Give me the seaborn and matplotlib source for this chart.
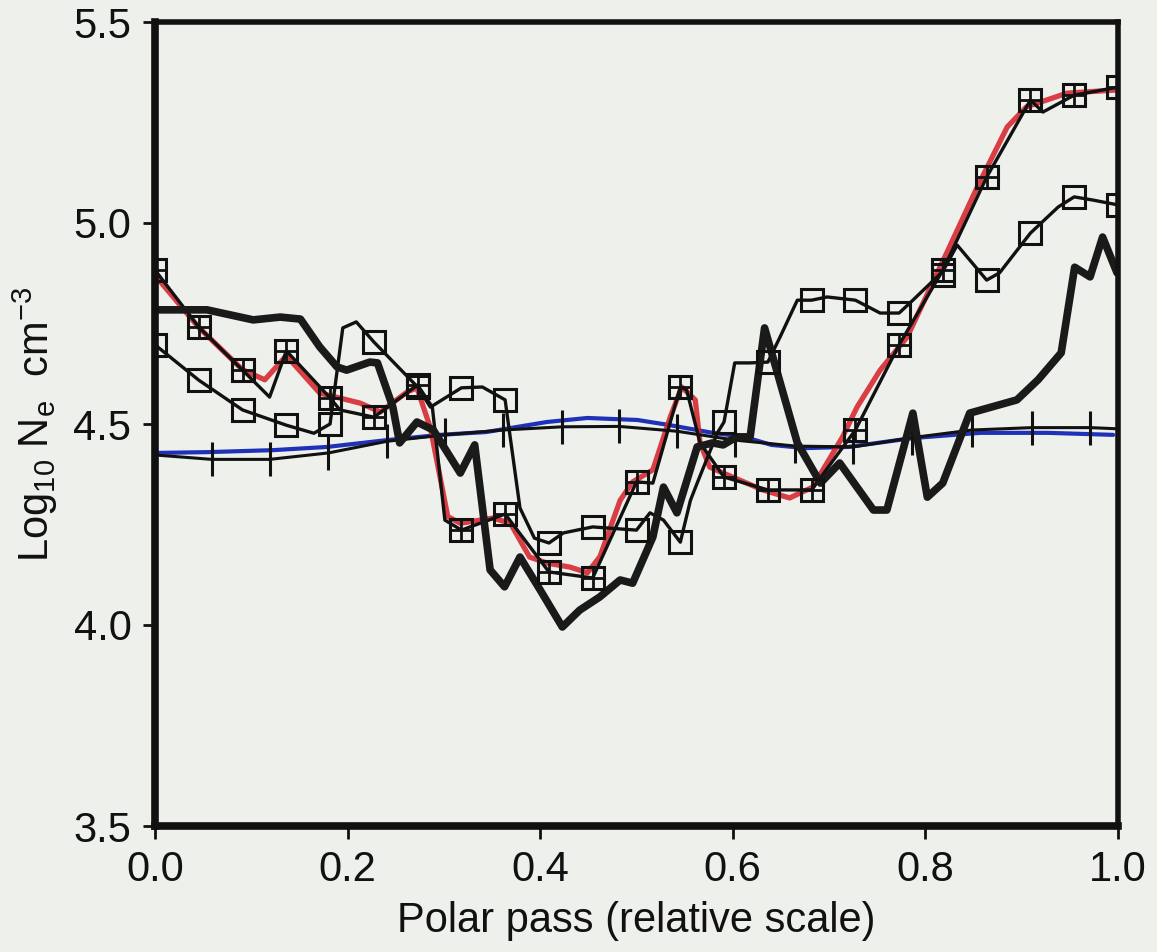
import numpy as np
import pandas as pd
import matplotlib
matplotlib.use("Agg")
import matplotlib.pyplot as plt
import seaborn as sns

# ---------------- data ----------------
# Series A: crossed squares (markers) + thin black line
a_mark_x = [0.0, 0.0455, 0.0909, 0.1364, 0.1818, 0.2273, 0.2727, 0.3182, 0.3636, 0.4091,
            0.4545, 0.5, 0.5455, 0.5909, 0.6364, 0.6818, 0.7273, 0.7727, 0.8182, 0.8636,
            0.9091, 0.9545, 1.0]
a_mark_y = [4.883, 4.741, 4.634, 4.682, 4.565, 4.517, 4.597, 4.236, 4.276, 4.132,
            4.117, 4.356, 4.592, 4.368, 4.336, 4.336, 4.485, 4.697, 4.883, 5.114,
            5.306, 5.318, 5.338]
a_line_x = [0.0, 0.0455, 0.0909, 0.119, 0.1364, 0.1818, 0.192, 0.2273, 0.2727, 0.288, 0.301,
            0.3182, 0.3636, 0.4091, 0.4545, 0.5, 0.517, 0.5455, 0.552, 0.566, 0.5909,
            0.6364, 0.6818, 0.7273, 0.7727, 0.8182, 0.8636, 0.9091, 0.922, 0.9545, 1.0]
a_line_y = [4.883, 4.741, 4.634, 4.567, 4.682, 4.565, 4.535, 4.517, 4.597, 4.542, 4.261,
            4.236, 4.276, 4.132, 4.117, 4.356, 4.353, 4.592, 4.585, 4.453, 4.368,
            4.336, 4.336, 4.485, 4.697, 4.883, 5.114, 5.306, 5.276, 5.318, 5.338]

# Series A': red curve
red_x = [0.0, 0.0455, 0.0909, 0.114, 0.1364, 0.171, 0.213, 0.234, 0.262, 0.272, 0.286, 0.296,
         0.304, 0.317, 0.351, 0.369, 0.389, 0.407, 0.431, 0.449, 0.462, 0.483, 0.496, 0.517,
         0.535, 0.547, 0.561, 0.566, 0.576, 0.590, 0.631, 0.659, 0.683, 0.714, 0.729, 0.753,
         0.781, 0.822, 0.854, 0.885, 0.905, 0.926, 0.947, 0.999]
red_y = [4.870, 4.740, 4.635, 4.610, 4.670, 4.577, 4.552, 4.530, 4.580, 4.590, 4.490, 4.368,
         4.270, 4.253, 4.266, 4.253, 4.169, 4.154, 4.144, 4.130, 4.170, 4.310, 4.356, 4.386,
         4.517, 4.592, 4.560, 4.453, 4.393, 4.378, 4.336, 4.316, 4.343, 4.468, 4.542, 4.634,
         4.716, 4.925, 5.090, 5.239, 5.289, 5.306, 5.323, 5.331]

# Series B: open squares + thin black line
b_mark_x = [0.0, 0.0455, 0.0909, 0.1364, 0.1818, 0.2273, 0.2727, 0.3182, 0.3636, 0.4091,
            0.4545, 0.5, 0.5455, 0.5909, 0.6364, 0.6818, 0.7273, 0.7727, 0.8182, 0.8636,
            0.9091, 0.9545, 1.0]
b_mark_y = [4.697, 4.609, 4.535, 4.497, 4.500, 4.704, 4.592, 4.590, 4.560, 4.204,
            4.244, 4.236, 4.206, 4.505, 4.654, 4.808, 4.808, 4.776, 4.870, 4.858,
            4.975, 5.065, 5.045]
b_line_x = [0.0, 0.0455, 0.0909, 0.1364, 0.165, 0.1818, 0.195, 0.209, 0.2273, 0.2727, 0.286,
            0.3182, 0.34, 0.3636, 0.366, 0.379, 0.394, 0.4091, 0.424, 0.4545, 0.5, 0.514,
            0.528, 0.5455, 0.556, 0.563, 0.584, 0.5909, 0.602, 0.618, 0.6364, 0.649, 0.667,
            0.6818, 0.698, 0.7273, 0.753, 0.7727, 0.787, 0.8182, 0.833, 0.8636, 0.877,
            0.9091, 0.938, 0.9545, 0.974, 1.0]
b_line_y = [4.697, 4.609, 4.535, 4.497, 4.477, 4.500, 4.739, 4.754, 4.704, 4.592, 4.542,
            4.590, 4.592, 4.560, 4.517, 4.291, 4.216, 4.204, 4.229, 4.244, 4.236, 4.279,
            4.261, 4.206, 4.310, 4.353, 4.478, 4.505, 4.652, 4.652, 4.654, 4.716, 4.808,
            4.808, 4.816, 4.808, 4.776, 4.776, 4.808, 4.880, 4.945, 4.858, 4.876,
            4.975, 5.040, 5.065, 5.057, 5.045]

# Series C: thick black line
c_x = [0.0, 0.054, 0.102, 0.130, 0.151, 0.171, 0.189, 0.199, 0.223, 0.231, 0.247, 0.254,
       0.272, 0.289, 0.317, 0.332, 0.348, 0.363, 0.379, 0.400, 0.423, 0.441, 0.462, 0.483,
       0.496, 0.517, 0.528, 0.542, 0.563, 0.579, 0.590, 0.604, 0.618, 0.633, 0.667, 0.691,
       0.711, 0.746, 0.760, 0.787, 0.802, 0.818, 0.846, 0.895, 0.917, 0.941, 0.955, 0.971,
       0.984, 0.999]
c_y = [4.784, 4.784, 4.759, 4.766, 4.761, 4.692, 4.642, 4.634, 4.654, 4.652, 4.542, 4.453,
       4.505, 4.485, 4.378, 4.448, 4.137, 4.095, 4.169, 4.087, 3.995, 4.037, 4.070, 4.112,
       4.104, 4.219, 4.343, 4.279, 4.443, 4.453, 4.448, 4.468, 4.468, 4.739, 4.453, 4.353,
       4.403, 4.286, 4.286, 4.527, 4.318, 4.353, 4.527, 4.560, 4.610, 4.677, 4.890, 4.866,
       4.965, 4.876]

# Series D: thin black line with tick marks
d_x = [0.0, 0.059, 0.119, 0.180, 0.241, 0.301, 0.361, 0.423, 0.482, 0.542, 0.602, 0.665,
       0.725, 0.786, 0.848, 0.911, 0.971, 1.0]
d_y = [4.423, 4.412, 4.412, 4.428, 4.457, 4.473, 4.485, 4.493, 4.494, 4.482, 4.460, 4.445,
       4.443, 4.466, 4.485, 4.491, 4.491, 4.488]
d_tick_x = [0.059, 0.119, 0.180, 0.241, 0.301, 0.361, 0.423, 0.482, 0.542, 0.602, 0.665,
            0.725, 0.786, 0.848, 0.911, 0.971]

# Series E: blue line
blue_x = [0.0, 0.054, 0.123, 0.179, 0.241, 0.296, 0.344, 0.407, 0.449, 0.501, 0.535, 0.579,
          0.612, 0.640, 0.675, 0.720, 0.787, 0.857, 0.927, 0.995]
blue_y = [4.428, 4.430, 4.435, 4.443, 4.460, 4.473, 4.480, 4.505, 4.515, 4.510, 4.497,
          4.478, 4.468, 4.448, 4.440, 4.443, 4.465, 4.478, 4.478, 4.473]

x_ticks = [0.0, 0.2, 0.4, 0.6, 0.8, 1.0]
x_tick_labels = ["0.0", "0.2", "0.4", "0.6", "0.8", "1.0"]
y_ticks = [3.5, 4.0, 4.5, 5.0, 5.5]
y_tick_labels = ["3.5", "4.0", "4.5", "5.0", "5.5"]
x_label = "Polar pass (relative scale)"
y_label = r"Log$_{10}$ N$_{\rm e}$  cm$^{-3}$"

# ---------------- drawing ----------------
sns.set_theme(style="ticks")
bg = "#eef0ec"
plt.rcParams["font.family"] = ["Liberation Sans", "DejaVu Sans"]
plt.rcParams["mathtext.fontset"] = "custom"
plt.rcParams["mathtext.rm"] = "Liberation Sans"
plt.rcParams["mathtext.it"] = "Liberation Sans"

fig = plt.figure(figsize=(11.57, 9.52), dpi=100, facecolor=bg)
ax = fig.add_axes([155 / 1157, 1 - 826 / 952, 963 / 1157, 804 / 952])
ax.set_facecolor(bg)

def line(x, y, **kw):
    sns.lineplot(x=x, y=y, ax=ax, sort=False, estimator=None, legend=False, **kw)

line(blue_x, blue_y, color="#1f31b8", lw=3.0, zorder=2)
line(d_x, d_y, color="#111111", lw=2.2, zorder=3)
line(d_tick_x, [np.interp(v, d_x, d_y) for v in d_tick_x], color="#111111", lw=0,
     marker="|", markersize=24, markeredgewidth=2.2, markeredgecolor="#111111", zorder=3)

line(red_x, red_y, color="#d61f26", lw=3.8, alpha=0.85, zorder=2.5)
line(a_line_x, a_line_y, color="#111111", lw=2.4, zorder=3)
line(b_line_x, b_line_y, color="#111111", lw=2.4, zorder=3)
line(c_x, c_y, color="#1a1a1a", lw=5.5, zorder=3.2)

# markers
line(a_mark_x, a_mark_y, color="#111111", lw=0, marker="s", markersize=16,
     markerfacecolor="none", markeredgecolor="#111111", markeredgewidth=2.2, zorder=4)
line(a_mark_x, a_mark_y, color="#111111", lw=0, marker="+", markersize=16,
     markeredgecolor="#111111", markeredgewidth=2.0, zorder=4)
line(b_mark_x, b_mark_y, color="#111111", lw=0, marker="s", markersize=16,
     markerfacecolor="none", markeredgecolor="#111111", markeredgewidth=2.2, zorder=4)

ax.set_xlim(0, 1.0)
ax.set_ylim(3.5, 5.5)
ax.set_xticks(x_ticks)
ax.set_xticklabels(x_tick_labels)
ax.set_yticks(y_ticks)
ax.set_yticklabels(y_tick_labels)
ax.tick_params(axis="both", direction="out", length=9, width=2, color="#111111",
               labelsize=30, labelcolor="#111111", pad=8)
ax.set_xlabel(x_label, fontsize=30, color="#111111", labelpad=8)
ax.set_ylabel(y_label, fontsize=30, color="#111111", labelpad=10)

for side, w in [("left", 5.5), ("bottom", 5.5), ("top", 4.0), ("right", 4.0)]:
    ax.spines[side].set_visible(True)
    ax.spines[side].set_linewidth(w)
    ax.spines[side].set_color("#111111")
    ax.spines[side].set_zorder(5)

fig.savefig("out.png", dpi=100, facecolor=bg)
